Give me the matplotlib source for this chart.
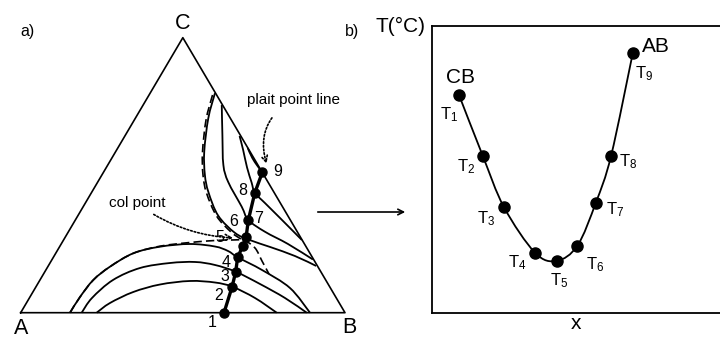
import numpy as np
import matplotlib
matplotlib.use('Agg')
import matplotlib.pyplot as plt
from matplotlib.path import Path
from matplotlib.patches import PathPatch

plt.rcParams['font.family'] = ['Liberation Sans', 'DejaVu Sans']

# --- a) ternary diagram: x runs A -> B, y is the C fraction (apex at 0.5, 1) ---
corner_names = ['A', 'B', 'C']
corner_x = [0.0, 1.0, 0.5]
corner_y = [0.0, 0.0, 1.0]

# plait points for the successive temperatures
plait_x = [0.627, 0.652, 0.663, 0.669, 0.685, 0.695, 0.702, 0.722, 0.745]
plait_y = [0.0, 0.0945, 0.149, 0.201, 0.243, 0.274, 0.337, 0.436, 0.51]
plait_names = ['1', '2', '3', '4', '5', '6', '7', '8', '9']

# binodal curves below the col point (open towards the A-B side)
low_curves = [
    ([0.2343, 0.2754, 0.3472, 0.4295, 0.5221, 0.5991, 0.6525, 0.7225, 0.7894],
     [0.0, 0.0353, 0.0753, 0.1025, 0.1153, 0.1098, 0.0945, 0.0535, 0.0]),
    ([0.1881, 0.2199, 0.2846, 0.3679, 0.4604, 0.5375, 0.5991, 0.663, 0.7379, 0.815,
      0.8819],
     [0.0, 0.0535, 0.1189, 0.1625, 0.1807, 0.1844, 0.1735, 0.149, 0.1044, 0.0535,
      0.0]),
    ([0.152, 0.1829, 0.2239, 0.2754, 0.3472, 0.4295, 0.5221, 0.5991, 0.6392, 0.6691,
      0.7441, 0.8304, 0.8921],
     [0.0, 0.0571, 0.1189, 0.1673, 0.216, 0.24, 0.2498, 0.2407, 0.2244, 0.2015,
      0.1553, 0.0898, 0.0]),
]

# binodal curves above the col point (open towards the B-C side)
high_curves = [
    ([0.599, 0.5785, 0.566, 0.568, 0.579, 0.609, 0.661, 0.707, 0.769, 0.846, 0.911],
     [0.798, 0.707, 0.5855, 0.501, 0.438, 0.353, 0.290, 0.264, 0.239, 0.206, 0.170]),
    ([0.620, 0.622, 0.625, 0.640, 0.6815, 0.702, 0.753, 0.824, 0.901],
     [0.755, 0.646, 0.537, 0.475, 0.3855, 0.337, 0.2945, 0.250, 0.1935]),
    ([0.675, 0.686, 0.698, 0.712, 0.722, 0.753, 0.800, 0.867],
     [0.6425, 0.5916, 0.528, 0.4735, 0.436, 0.399, 0.344, 0.2644]),
    ([0.700, 0.714, 0.730, 0.745],
     [0.599, 0.563, 0.534, 0.51]),
]

# the two branches of the binodal that passes through the col point
col_low = ([0.152, 0.1829, 0.2239, 0.2754, 0.3472, 0.4295, 0.5221, 0.5991, 0.6516,
            0.6886, 0.7225, 0.7441, 0.7657],
           [0.0, 0.0571, 0.1189, 0.1673, 0.216, 0.2418, 0.2553, 0.2625, 0.2644,
            0.2625, 0.2353, 0.188, 0.1407])
col_high = ([0.5915, 0.5715, 0.5607, 0.5622, 0.573, 0.604, 0.6486, 0.686],
            [0.7916, 0.7007, 0.5844, 0.5007, 0.4353, 0.3516, 0.2935, 0.2625])

# --- b) temperature of the plait points along the composition ---
comp_x = [0.094, 0.176, 0.250, 0.358, 0.433, 0.505, 0.569, 0.622, 0.697]
temp_c = [0.759, 0.548, 0.368, 0.209, 0.181, 0.234, 0.384, 0.548, 0.905]
temp_names = [r'$\mathregular{T_%d}$' % (i + 1) for i in range(9)]
temp_offsets = [(-7, -14), (-12, -8), (-13, -8), (-13, -7), (2, -14),
                (13, -14), (14, -5), (12, -4), (8, -15)]


def smooth_path(xs, ys):
    # Catmull-Rom spline written as cubic Bezier segments
    p = np.column_stack([xs, ys]).astype(float)
    ext = np.vstack([p[0], p, p[-1]])
    verts = [p[0]]
    codes = [Path.MOVETO]
    for i in range(len(p) - 1):
        p0, p1, p2, p3 = ext[i], ext[i + 1], ext[i + 2], ext[i + 3]
        verts += [p1 + (p2 - p0) / 6, p2 - (p3 - p1) / 6, p2]
        codes += [Path.CURVE4] * 3
    return Path(verts, codes)


def draw_curve(ax, xs, ys, **kw):
    ax.add_patch(PathPatch(smooth_path(xs, ys), fill=False, **kw))


fig = plt.figure(figsize=(7.2, 3.38), dpi=100)

ax = fig.add_axes([0, 0, 0.5, 1])
ax.set_xlim(-0.0638, 1.0463)
ax.set_ylim(-0.092, 1.137)
ax.axis('off')

ax.plot(corner_x + [corner_x[0]], corner_y + [corner_y[0]], color='black', lw=1.2)
label_at = {'A': (0.0, -0.056), 'B': (1.015, -0.054), 'C': (0.5, 1.053)}
for name in corner_names:
    ax.text(*label_at[name], name, fontsize=15.5, ha='center', va='center')

for xs, ys in low_curves + high_curves:
    draw_curve(ax, xs, ys, color='black', lw=1.3)
for xs, ys in [col_low, col_high]:
    draw_curve(ax, xs, ys, color='black', lw=1.2, linestyle=(0, (5, 2.5)))

ax.plot(plait_x, plait_y, color='black', lw=2.4, marker='o', ms=6.5)

num_pos = [(0.591, -0.036), (0.609, 0.064), (0.630, 0.131), (0.632, 0.182),
           (0.615, 0.274), (0.656, 0.331), (0.733, 0.343), (0.686, 0.446),
           (0.792, 0.513)]
for name, (tx, ty) in zip(plait_names, num_pos):
    ax.text(tx, ty, name, fontsize=11.5, ha='center', va='center')

ax.annotate('col point', xy=(0.655, 0.272), xytext=(0.358, 0.398),
            fontsize=11, ha='center', va='center',
            arrowprops=dict(arrowstyle='->', lw=1.2, linestyle=(0, (1, 1.2)),
                            connectionstyle='arc3,rad=0.15',
                            shrinkA=2, shrinkB=0))
ax.annotate('plait point line', xy=(0.758, 0.542), xytext=(0.841, 0.774),
            fontsize=11, ha='center', va='center',
            arrowprops=dict(arrowstyle='->', lw=1.2, linestyle=(0, (1, 1.2)),
                            connectionstyle='arc3,rad=0.4',
                            shrinkA=8, shrinkB=0))

ax.text(0.0225, 1.021, 'a)', fontsize=11.5, ha='center', va='center')
ax.text(1.022, 1.021, 'b)', fontsize=11.5, ha='center', va='center')

ax.annotate('', xy=(408, 126), xycoords='figure pixels',
            xytext=(315, 126), textcoords='figure pixels',
            arrowprops=dict(arrowstyle='->', lw=1.2), annotation_clip=False)

bx = fig.add_axes([0.6, 0.0749, 0.4, 0.848])
bx.set_xlim(0, 1)
bx.set_ylim(0, 1)
for side in ['left', 'top', 'bottom']:
    bx.spines[side].set_linewidth(1.3)
bx.spines['right'].set_visible(False)
bx.set_xticks([])
bx.set_yticks([])

bx.add_patch(PathPatch(smooth_path(comp_x, temp_c), fill=False, color='black', lw=1.3))
bx.plot(comp_x, temp_c, 'o', color='black', ms=8)
for name, xv, yv, off in zip(temp_names, comp_x, temp_c, temp_offsets):
    bx.annotate(name, (xv, yv), xytext=off, textcoords='offset points',
                fontsize=12, ha='center', va='center')
bx.annotate('CB', (comp_x[0], temp_c[0]), xytext=(1, 13), textcoords='offset points',
            fontsize=15, ha='center', va='center')
bx.annotate('AB', (comp_x[-1], temp_c[-1]), xytext=(17, 5), textcoords='offset points',
            fontsize=15, ha='center', va='center')

bx.set_xlabel('x', fontsize=15, labelpad=1)
bx.text(-0.024, 0.997, 'T(°C)', transform=bx.transAxes, fontsize=15,
        ha='right', va='center')

fig.savefig('out.png', dpi=100)
